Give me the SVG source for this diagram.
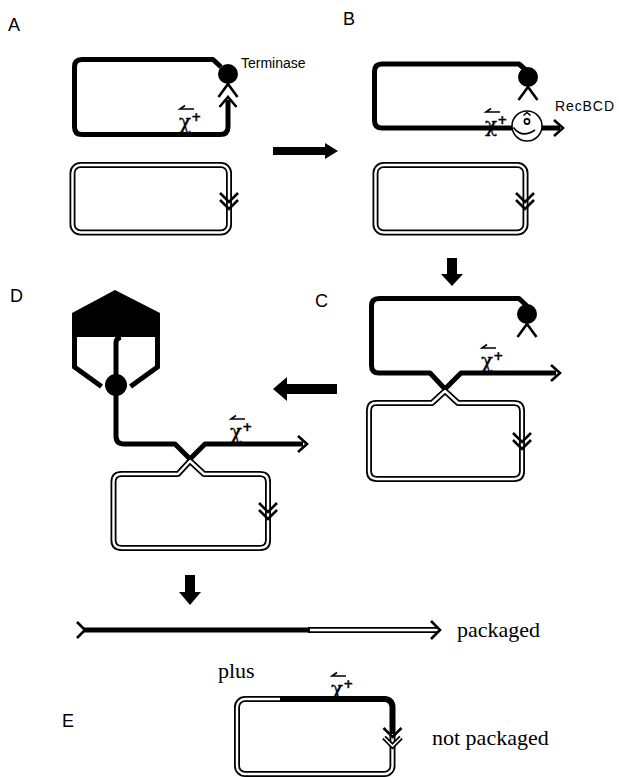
<svg xmlns="http://www.w3.org/2000/svg" width="619" height="777" viewBox="0 0 619 777">
  <style>
    .dna { fill: none; stroke: #000; stroke-width: 5; stroke-linejoin: round; }
    .ds-o { fill: none; stroke: #000; stroke-width: 6; stroke-linejoin: round; }
    .ds-i { fill: none; stroke: #fff; stroke-width: 2.4; stroke-linejoin: round; }
    .chev { fill: none; stroke: #000; stroke-width: 2.6; stroke-linejoin: miter; }
    .thin { fill: none; stroke: #000; stroke-width: 1.6; }
    .lab { font-family: "Liberation Sans", Arial, sans-serif; font-size: 18px; fill: #000; }
    .small { font-family: "Liberation Sans", Arial, sans-serif; font-size: 14px; fill: #000; }
    .chi { font-family: "DejaVu Serif", "Liberation Serif", serif; font-size: 20px; fill: #000; stroke: #000; stroke-width: 0.3; }
    .sup { font-family: "DejaVu Sans", sans-serif; font-size: 12px; font-weight: bold; }
    .serif { font-family: "Liberation Serif", "Times New Roman", serif; font-size: 22px; fill: #000; }
    .blk { fill: #000; }
  </style>
  <defs>
    <!-- chi site with leftward harpoon above it -->
    <g id="chi">
      <path class="thin" d="M15 -20 L1 -20 L6 -23.5"/>
      <text class="chi" x="0" y="0">χ<tspan class="sup" dy="-8">+</tspan></text>
    </g>
    <!-- double chevron on a duplex, pointing down -->
    <g id="dchev">
      <path class="chev" d="M-9 -8 L0 1 L9 -8"/>
      <path class="chev" d="M-9 -1 L0 8 L9 -1"/>
    </g>
    <!-- terminase: ball with two legs -->
    <g id="term">
      <circle cx="0" cy="0" r="10" class="blk"/>
      <path class="chev" d="M-9.5 23 L0 10 L9.5 23"/>
    </g>
  </defs>

  <!-- panel labels -->
  <g id="labels">
    <text class="lab" x="8" y="31">A</text>
    <text class="lab" x="343" y="25">B</text>
    <text class="lab" x="315" y="307">C</text>
    <text class="lab" x="10" y="302">D</text>
    <text class="lab" x="62" y="727">E</text>
  </g>

  <!-- step arrows between panels -->
  <g id="connectors">
    <path class="blk" d="M273 147 L325 147 L325 143 L338 151 L325 159 L325 155 L273 155 Z"/>
    <path class="blk" d="M447 258 L457 258 L457 274 L463 274 L452 286 L441 274 L447 274 Z"/>
    <path class="blk" d="M337 384 L287 384 L287 377 L273 389 L287 401 L287 394 L337 394 Z"/>
    <path class="blk" d="M185 575 L195 575 L195 592 L201 592 L190 605 L179 592 L185 592 Z"/>
  </g>

  <!-- A: chromosome with terminase at cos, plus partner duplex -->
  <g id="panel-a">
    <path class="dna" d="M221 67 L213 59.5 L82 59.5 Q74.5 59.5 74.5 67 L74.5 127 Q74.5 134.5 82 134.5 L220 134.5 Q228 134.5 228 127 L228 100"/>
    <use href="#term" x="228" y="74"/>
    <path class="chev" d="M219.5 107 L228 97 L236.5 107"/>
    <use href="#chi" x="179" y="129"/>
    <text class="small" x="241" y="68">Terminase</text>
    <rect class="ds-o" x="72.5" y="165" width="156.5" height="67.5" rx="8"/>
    <rect class="ds-i" x="72.5" y="165" width="156.5" height="67.5" rx="8"/>
    <use href="#dchev" x="229" y="201"/>
  </g>

  <!-- B: cut end entered by RecBCD -->
  <g id="panel-b">
    <path class="dna" d="M527 71 L519 64 L382 64 Q374.5 64 374.5 71.5 L374.5 120.5 Q374.5 128 382 128 L560 128"/>
    <path class="chev" d="M554 120 L563 128 L554 136"/>
    <use href="#term" x="528" y="77"/>
    <use href="#chi" x="485" y="132"/>
    <g id="recbcd">
      <circle cx="527" cy="126" r="15" fill="#fff" stroke="#000" stroke-width="1.5"/>
      <circle cx="527" cy="121.5" r="2.6" fill="none" stroke="#000" stroke-width="1.6"/>
      <path class="thin" d="M523.5 115.5 L527 112.5 L530.5 115.5"/>
      <path class="thin" d="M513.5 127.5 Q522 139 535 130"/>
    </g>
    <text class="small" x="555" y="111" textLength="59">RecBCD</text>
    <rect class="ds-o" x="375.5" y="165" width="150" height="67.5" rx="8"/>
    <rect class="ds-i" x="375.5" y="165" width="150" height="67.5" rx="8"/>
    <use href="#dchev" x="525" y="201"/>
  </g>

  <!-- C: strand exchange at chi -->
  <g id="panel-c">
    <path class="ds-o" d="M445 391 L432 403 L376 403 Q369 403 369 411 L369 471 Q369 479 377 479 L514 479 Q522 479 522 471 L522 411 Q522 403 514 403 L458 403 Z"/>
    <path class="ds-i" d="M445 391 L432 403 L376 403 Q369 403 369 411 L369 471 Q369 479 377 479 L514 479 Q522 479 522 471 L522 411 Q522 403 514 403 L458 403 Z"/>
    <use href="#dchev" x="522" y="441"/>
    <path class="dna" d="M527 306 L519 298.5 L379 298.5 Q371.5 298.5 371.5 306 L371.5 365.5 Q371.5 373 379 373 L430 373 L445 389"/>
    <path class="dna" d="M445 389 L461 373 L556 373"/>
    <path class="chev" d="M551 365 L560 373 L551 381"/>
    <use href="#term" x="527" y="314"/>
    <use href="#chi" x="481" y="368"/>
  </g>

  <!-- D: packaging into the prohead -->
  <g id="panel-d">
    <g id="prohead">
      <path class="blk" d="M115 290 L160 313 L160 337 L72 337 L72 313 Z"/>
      <path class="dna" style="stroke-linejoin:miter" d="M74.5 336 L74.5 367 L101.5 386.5"/>
      <path class="dna" style="stroke-linejoin:miter" d="M157.5 336 L157.5 367 L130.5 386.5"/>
    </g>
    <path class="ds-o" d="M190 461 L178 474 L121.5 474 Q113.5 474 113.5 482 L113.5 540 Q113.5 548 121.5 548 L260 548 Q268 548 268 540 L268 482 Q268 474 260 474 L204 474 Z"/>
    <path class="ds-i" d="M190 461 L178 474 L121.5 474 Q113.5 474 113.5 482 L113.5 540 Q113.5 548 121.5 548 L260 548 Q268 548 268 540 L268 482 Q268 474 260 474 L204 474 Z"/>
    <use href="#dchev" x="268" y="511"/>
    <path class="dna" d="M121 337.5 Q116 338 116 343 L116 436 Q116 444 124 444 L175 444 L190 459"/>
    <path class="dna" d="M190 459 L205 444 L303 444"/>
    <path class="chev" d="M298 436 L307 444 L298 452"/>
    <circle cx="116" cy="385" r="11" class="blk"/>
    <use href="#chi" x="230" y="439"/>
  </g>

  <!-- packaged product -->
  <g id="packaged">
    <path class="ds-o" d="M308 630 L437 630"/>
    <path class="ds-i" d="M308 630 L437 630"/>
    <path class="dna" d="M83 630 L310 630"/>
    <path class="chev" d="M77 622 L85 630 L77 638"/>
    <path class="chev" d="M431 621 L440 630 L431 639"/>
    <text class="serif" x="457" y="637">packaged</text>
    <text class="serif" x="218" y="678">plus</text>
  </g>

  <!-- E: leftover circle -->
  <g id="panel-e">
    <rect class="ds-o" x="237" y="699" width="155.5" height="75" rx="8"/>
    <rect class="ds-i" x="237" y="699" width="155.5" height="75" rx="8"/>
    <path class="dna" d="M280 699 L384.5 699 Q392.5 699 392.5 707 L392.5 734"/>
    <path class="chev" d="M383.5 728 L392.5 737 L401.5 728"/>
    <path fill="none" stroke="#000" stroke-width="5" d="M384 737.5 L392.5 746 L401 737.5"/>
    <path fill="none" stroke="#fff" stroke-width="1.6" d="M384 737.5 L392.5 746 L401 737.5"/>
    <use href="#chi" x="331" y="696"/>
    <text class="serif" x="432" y="745">not packaged</text>
  </g>
</svg>
